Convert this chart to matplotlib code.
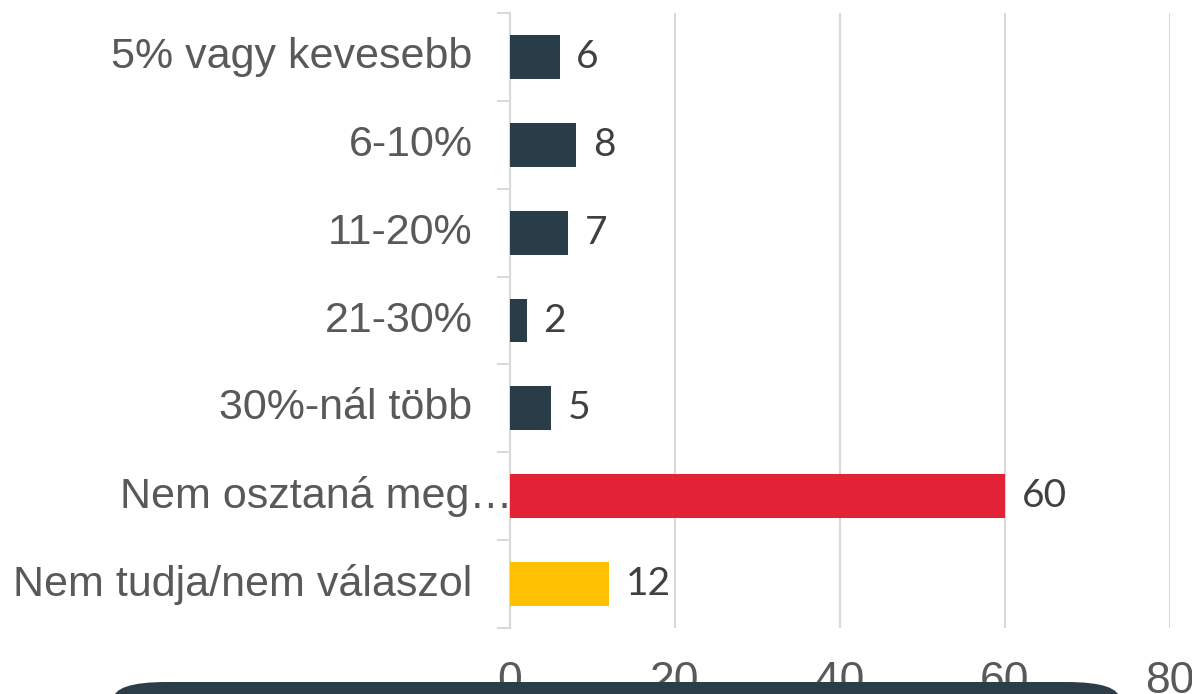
import matplotlib
matplotlib.use("Agg")
import matplotlib.pyplot as plt
from matplotlib.patches import FancyBboxPatch

categories = [
    "5% vagy kevesebb",
    "6-10%",
    "11-20%",
    "21-30%",
    "30%-nál több",
    "Nem osztaná meg…",
    "Nem tudja/nem válaszol",
]
values = [6, 8, 7, 2, 5, 60, 12]
bar_colors = ["#293d48", "#293d48", "#293d48", "#293d48", "#293d48", "#e32237", "#ffc000"]
x_ticks = [0, 20, 40, 60, 80]

fig = plt.figure(figsize=(11.92, 6.94), dpi=100)
ax = fig.add_axes([510 / 1192, 1 - 628 / 694, 660 / 1192, 615 / 694])

y = list(range(len(categories)))
ax.barh(y, values, height=0.5, color=bar_colors, zorder=3)
ax.set_ylim(len(categories) - 0.5, -0.5)
ax.set_xlim(0, 80)

for yi, v in zip(y, values):
    ax.annotate(str(v), (v, yi), xytext=(12, 0), textcoords="offset points",
                va="center", ha="left", fontsize=28, color="#404040",
                family=["Lato", "DejaVu Sans"])

# category labels
ax.set_yticks([])
for yi, name in zip(y, categories):
    dx = -27 if not name.endswith("…") else 2
    ax.annotate(name, (0, yi), xytext=(dx, 0), textcoords="offset points",
                va="center", ha="right", fontsize=31, color="#595959",
                family=["Liberation Sans", "DejaVu Sans"], annotation_clip=False)

# separator ticks on the category axis
for b in [i - 0.5 for i in range(len(categories) + 1)]:
    ax.plot([-1.5, 0], [b, b], color="#d9d9d9", lw=1.5, clip_on=False, zorder=2)

ax.set_xticks(x_ticks)
ax.set_xticklabels([str(t) for t in x_ticks], fontsize=32, color="#595959",
                   family=["Liberation Sans Narrow", "Liberation Sans"])
ax.tick_params(axis="x", length=0, pad=24)
ax.grid(axis="x", color="#d9d9d9", lw=1.5, zorder=0)

for side in ["top", "right", "bottom"]:
    ax.spines[side].set_visible(False)
ax.spines["left"].set_color("#d9d9d9")
ax.spines["left"].set_linewidth(1.5)

# dark banner overlapping the bottom (covers the x tick labels as in the original)
banner = FancyBboxPatch((113 / 1192, -0.1), 1007 / 1192, 0.1 + 12 / 694,
                        boxstyle="round,pad=0,rounding_size=0.045",
                        transform=fig.transFigure, facecolor="#2a3d48",
                        edgecolor="none", zorder=10, mutation_aspect=694 / 1192)
fig.patches.append(banner)

fig.savefig("out.png", dpi=100)
